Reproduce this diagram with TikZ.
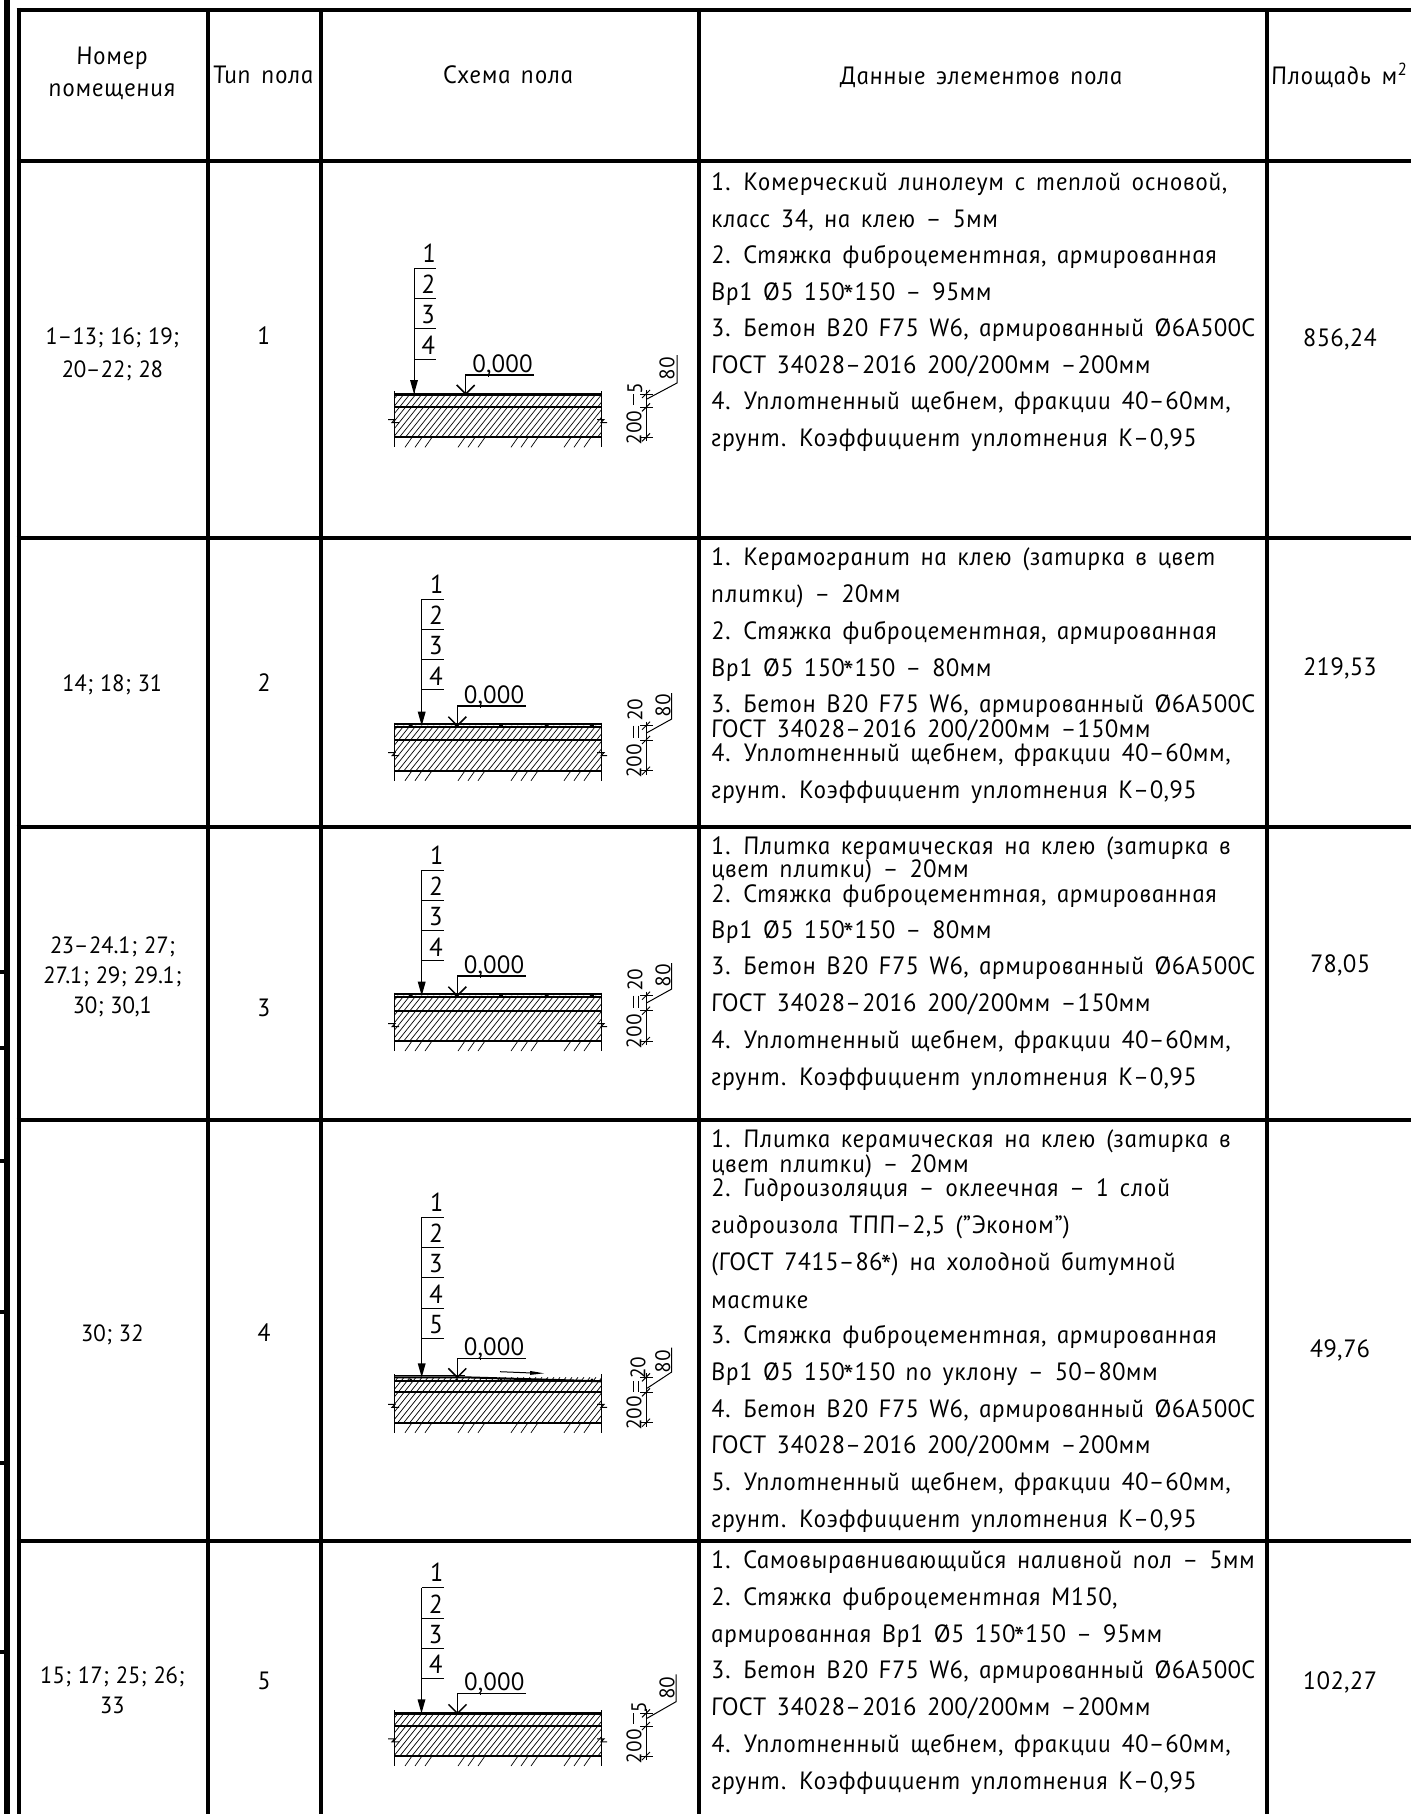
\documentclass[tikz,border=0pt]{standalone}
\usepackage{fontspec}
\setmainfont[FakeSlant=-0.18,WordSpace=1.45,LetterSpace=3]{PT Sans Italic}
\newfontfamily\roomfont[FakeSlant=-0.18,WordSpace=1.1]{PT Sans Italic}
\newcommand{\midstar}{\raisebox{-6pt}{\fontsize{30}{30}\selectfont *}}
\tikzset{
    gridline/.style={line width=4pt, black},
    frameline/.style={line width=6.5pt, black},
    sideline/.style={line width=4pt, black},
    cell/.style={inner sep=0pt, anchor=base, font=\fontsize{25}{25}\selectfont},
    roomcell/.style={inner sep=0pt, anchor=base, font=\roomfont\fontsize{23.5}{24}\selectfont},
    rowtext/.style={cell, anchor=base west},
    callout/.style={inner sep=0pt, font=\fontsize{26}{26}\selectfont},
    dimtext/.style={inner sep=0pt, rotate=90, font=\fontsize{21}{21}\selectfont},
    thinline/.style={line width=1pt},
    layerline/.style={line width=2.2pt},
    topline/.style={line width=3pt},
    bandline/.style={line width=2pt},
    hatchline/.style={line width=.7pt},
}
% floor layers: local y=0 is the top of the floor
\newcommand{\floorlayers}[3]{
    \begin{scope}
        \clip (394,0) rectangle (601.7,#2);
        \foreach \hx in {330,336,...,620}
            \draw[hatchline] (\hx,70) -- (\hx+56,0);
    \end{scope}
    \foreach \gx in {412,422,432,465,475,485,518,528,538,571,581,591}
        \draw[hatchline] (\gx-7,#2+10) -- (\gx,#2);
    \draw[thinline] (394.3,-3) -- (394.3,#2+10);
    \draw[thinline] (601.7,-3) -- (601.7,#2+10);
    \draw[layerline] (394.3,#1) -- (601.7,#1);
    \draw[layerline] (394.3,#2) -- (601.7,#2);
    \draw[thinline] (388,#3) -- (395,#3) -- (392,#3+3) -- (399,#3+3);
    \draw[thinline] (597,#3) -- (604,#3) -- (601,#3+3) -- (607,#3+3);
}
% shelves with layer numbers and the arrow to the floor
\newcommand{\layerstack}[3]{
    \draw[thinline] (#1,#3) -- (#1,-1);
    \fill (#1,0) -- (#1-4,-14) -- (#1+4,-14) -- cycle;
    \foreach \sn [evaluate=\sn as \sy using {#3+(\sn-1)*30.3}] in {1,...,#2} {
        \draw[thinline] (#1,\sy) -- (#1+22,\sy);
        \ifnum\sn=1
            \node[callout, anchor=east] (num\sn) at (#1+23,\sy-15) {\sn};
        \else
            \node[callout] (num\sn) at (#1+15,\sy-14) {\sn};
        \fi
    }
}
% elevation mark
\newcommand{\levelmark}[2]{
    \draw[line width=1.5pt] (#1+68.5,#2) -- (#1,#2) -- (#1,0);
    \draw[line width=1.5pt] (#1-9,-9) -- (#1,0) -- (#1+9,-9);
    \draw[thinline] (#1+23,#2) -- (#1+23,#2+2);
    \node[cell] (level) at (#1+37.5,#2-2.5) {0,000};
}
% thickness dimensions on the right
\newcommand{\thicknessdim}[2]{
    \draw[thinline] (646,-4) -- (646,#2+4);
    \foreach \dy in {0,#1,#2} {
        \draw[thinline] (640,\dy) -- (653,\dy);
        \draw[thinline] (642,\dy+4) -- (650,\dy-4);
    }
    \node[dimtext] (dimlow) at (634,#2-10) {200};
}
\begin{document}
\begin{tikzpicture}[x=1pt,y=-1pt]
    \useasboundingbox (0,0) rectangle (1411,1814);
    % frame and table grid
    \draw[frameline] (6.8,0) -- (6.8,1814);
    \foreach \ty in {971.8,1047.6,1161.3,1312.4,1462.9,1651.8}
        \draw[gridline] (0,\ty) -- (6,\ty);
    \draw[sideline] (18.5,8) -- (18.5,1814);
    \foreach \tx in {207.7,321,699,1267}
        \draw[gridline] (\tx,10) -- (\tx,1814);
    \foreach \ty in {10,161.5,538,827,1120,1541}
        \draw[gridline] (16.5,\ty) -- (1411,\ty);
    % header
    \node[cell] (headroomA) at (113,65) {Номер};
    \node[cell] (headroomB) at (113,97) {помещения};
    \node[cell] (headtype) at (264,84) {Тип пола};
    \node[cell] (headscheme) at (509,84) {Схема пола};
    \node[cell] (headdata) at (982,85) {Данные элементов пола};
    \node[cell, anchor=base west] (headarea) at (1272,85) {Площадь м\textsuperscript{2}};
    % rooms, floor type, area
    \foreach \cy/\ct [count=\ci] in {336.6/{1–13; 16; 19;},369/{20–22; 28},683.5/{14; 18; 31},945/{23–24.1; 27;},975/{27.1; 29; 29.1;},1005/{30; 30,1},1333.6/{30; 32},1675/{15; 17; 25; 26;},1705/{33}}
        \node[roomcell] (room\ci) at (113,\cy+8) {\ct};
    \foreach \cy/\ct [count=\ci] in {336.6/1,683.5/2,1008/3,1333.6/4,1681.7/5}
        \node[cell] (type\ci) at (264.5,\cy+8) {\ct};
    \foreach \cy/\ct [count=\ci] in {338/{856,24},667.6/{219,53},964.7/{78,05},1349/{49,76},1681/{102,27}}
        \node[cell] (area\ci) at (1340.6,\cy+8) {\ct};
    % floor data, row by row
    \foreach \ly/\lt [count=\li] in {
        182.7/{1. Комерческий линолеум с теплой основой,},
        219.2/{класс 34, на клею – 5мм},
        255.7/{2. Стяжка фиброцементная, армированная},
        292.2/{Вр1 Ø5 150\midstar150 – 95мм},
        328.7/{3. Бетон B20 F75 W6, армированный Ø6A500C},
        365.2/{ГОСТ 34028–2016 200/200мм –200мм},
        401.7/{4. Уплотненный щебнем, фракции 40–60мм,},
        438.2/{грунт. Коэффициент уплотнения К–0,95}}
        \node[rowtext] (dataA\li) at (712,\ly+8) {\lt};
    \foreach \ly/\lt [count=\li] in {
        557.7/{1. Керамогранит на клею (затирка в цвет},
        594.7/{плитки) – 20мм},
        631.7/{2. Стяжка фиброцементная, армированная},
        668/{Вр1 Ø5 150\midstar150 – 80мм},
        704.6/{3. Бетон B20 F75 W6, армированный Ø6A500C},
        729/{ГОСТ 34028–2016 200/200мм –150мм},
        753.8/{4. Уплотненный щебнем, фракции 40–60мм,},
        790/{грунт. Коэффициент уплотнения К–0,95}}
        \node[rowtext] (dataB\li) at (712,\ly+8) {\lt};
    \foreach \ly/\lt [count=\li] in {
        846.3/{1. Плитка керамическая на клею (затирка в},
        869.6/{цвет плитки) – 20мм},
        894.4/{2. Стяжка фиброцементная, армированная},
        930.7/{Вр1 Ø5 150\midstar150 – 80мм},
        966.6/{3. Бетон B20 F75 W6, армированный Ø6A500C},
        1003.5/{ГОСТ 34028–2016 200/200мм –150мм},
        1040.5/{4. Уплотненный щебнем, фракции 40–60мм,},
        1077.5/{грунт. Коэффициент уплотнения К–0,95}}
        \node[rowtext] (dataC\li) at (712,\ly+8) {\lt};
    \foreach \ly/\lt [count=\li] in {
        1139.2/{1. Плитка керамическая на клею (затирка в},
        1164.8/{цвет плитки) – 20мм},
        1188.6/{2. Гидроизоляция – оклеечная – 1 слой},
        1225.8/{гидроизола ТПП–2,5 ("Эконом")},
        1262.7/{(ГОСТ 7415–86\midstar) на холодной битумной},
        1300/{мастике},
        1335.9/{3. Стяжка фиброцементная, армированная},
        1372.7/{Вр1 Ø5 150\midstar150 по уклону – 50–80мм},
        1409.5/{4. Бетон B20 F75 W6, армированный Ø6A500C},
        1445.9/{ГОСТ 34028–2016 200/200мм –200мм},
        1482.7/{5. Уплотненный щебнем, фракции 40–60мм,},
        1519.5/{грунт. Коэффициент уплотнения К–0,95}}
        \node[rowtext] (dataD\li) at (712,\ly+8) {\lt};
    \foreach \ly/\lt [count=\li] in {
        1560.4/{1. Самовыравнивающийся наливной пол – 5мм},
        1597.2/{2. Стяжка фиброцементная М150,},
        1634/{армированная Вр1 Ø5 150\midstar150 – 95мм},
        1670.4/{3. Бетон B20 F75 W6, армированный Ø6A500C},
        1707.2/{ГОСТ 34028–2016 200/200мм –200мм},
        1744/{4. Уплотненный щебнем, фракции 40–60мм,},
        1781.3/{грунт. Коэффициент уплотнения К–0,95}}
        \node[rowtext] (dataE\li) at (712,\ly+8) {\lt};
    % type 1
    \begin{scope}[shift={(0,394)}]
        \floorlayers{13.3}{43.3}{25.5}
        \draw[topline] (394.3,0) -- (601.7,0);
        \layerstack{414}{4}{-125.7}
        \levelmark{465.7}{-19}
        \thicknessdim{13.3}{43.3}
        \node[dimtext] (dimtop) at (635,-6) {5};
        \draw[thinline] (633,0) -- (633,11);
        \draw[thinline] (647,5) -- (677,-11) -- (677,-39);
        \node[dimtext] (dimlead) at (667,-26) {80};
    \end{scope}
    % type 2
    \begin{scope}[shift={(0,725.7)}]
        \floorlayers{14.3}{45}{27}
        \draw[bandline] (394.3,-1.7) -- (601.7,-1.7) (394.3,1.7) -- (601.7,1.7);
        \foreach \px in {410.7,456.7,501,546.7,592}
            \fill (\px,0) circle (2);
        \layerstack{421.7}{4}{-126.7}
        \levelmark{457.3}{-19.7}
        \thicknessdim{14.3}{45}
        \node[dimtext] (dimtop) at (635,-16) {20};
        \draw[thinline] (633,0) -- (633,12) (638,0) -- (638,12);
        \draw[thinline] (647,7) -- (671.7,-6.7) -- (671.7,-32.7);
        \node[dimtext] (dimlead) at (663,-20.7) {80};
    \end{scope}
    % type 3
    \begin{scope}[shift={(0,995.7)}]
        \floorlayers{15}{45.3}{28}
        \draw[bandline] (394.3,-1.7) -- (601.7,-1.7) (394.3,1.7) -- (601.7,1.7);
        \foreach \px in {410.7,456.7,501,546.7,592}
            \fill (\px,0) circle (2);
        \layerstack{421.7}{4}{-125.7}
        \levelmark{457.3}{-19.7}
        \thicknessdim{15}{45.3}
        \node[dimtext] (dimtop) at (635,-16) {20};
        \draw[thinline] (633,0) -- (633,12) (638,0) -- (638,12);
        \draw[thinline] (647,7) -- (671.7,-6.7) -- (671.7,-32.7);
        \node[dimtext] (dimlead) at (663,-20.7) {80};
    \end{scope}
    % type 4, screed to a slope
    \begin{scope}[shift={(0,1377.3)}]
        \floorlayers{15}{45.4}{27}
        \draw[bandline] (394.3,0) -- (465,0) -- (601.7,4);
        \draw[bandline] (394.3,4) -- (601.7,4);
        \draw[thinline] (394.3,-2) -- (465,-2);
        \foreach \px in {410.7,456.7,501,546.7,592}
            \fill (\px,2.5) circle (1.5);
        \layerstack{421.7}{5}{-160}
        \levelmark{457.3}{-19}
        \thicknessdim{15}{45.4}
        \node[dimtext] (dimtop) at (638,-10) {20};
        \draw[thinline] (633,4) -- (633,15) (638,4) -- (638,15);
        \draw[thinline] (647,11) -- (671.7,-5.3) -- (671.7,-29.6);
        \node[dimtext] (dimlead) at (662.7,-16.3) {80};
        \coordinate (slopestart) at (500,-5.6);
        \coordinate (slopeend) at (544,-4);
        \draw[thinline] (slopestart) -- (530,-4.4);
        \fill (slopeend) -- (530,-6.4) -- (530,-2.4) -- cycle;
    \end{scope}
    % type 5
    \begin{scope}[shift={(0,1713.3)}]
        \floorlayers{12.7}{42.7}{25.5}
        \draw[topline] (394.3,0) -- (601.7,0);
        \layerstack{421.5}{4}{-125.6}
        \levelmark{457.5}{-20}
        \thicknessdim{12.7}{42.7}
        \node[dimtext] (dimtop) at (639,-6) {5};
        \draw[thinline] (633,0) -- (633,11);
        \draw[thinline] (647,5) -- (676,-11.6) -- (676,-39);
        \node[dimtext] (dimlead) at (667,-26) {80};
    \end{scope}
\end{tikzpicture}
\end{document}
